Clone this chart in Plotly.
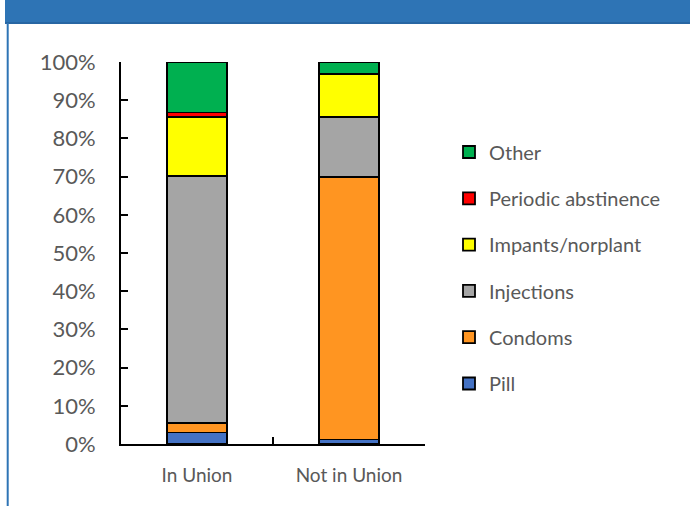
import plotly.graph_objects as go

categories = ["In Union", "Not in Union"]
series_names = ["Pill", "Condoms", "Injections", "Impants/norplant", "Periodic abstinence", "Other"]
pill = [3.0, 1.2]
condoms = [2.5, 68.8]
injections = [64.7, 15.5]
implants = [15.3, 11.4]
periodic = [1.3, 0.0]
other = [13.2, 3.1]
series_values = [pill, condoms, injections, implants, periodic, other]
colors = ["#4472C4", "#FF9521", "#A5A5A5", "#FFFF00", "#FF0000", "#00B050"]
y_ticks = list(range(0, 101, 10))
y_tick_labels = [f"{v}%" for v in y_ticks]
title_text = "Contraceptive method mix, 15-24 year olds"

W, H = 690, 506
L, R, T, B = 121, 265, 62, 62
pw, ph = W - L - R, H - T - B

def px_x(x):
    return (x - L) / pw

def px_y(y):
    return (H - B - y) / ph

FONT = "Lato, Liberation Sans, Arial, sans-serif"
GREY = "#595959"
BLUE = "#2E74B5"

fig = go.Figure()
n = len(series_names)
for i, (name, vals, col) in enumerate(zip(series_names, series_values, colors)):
    fig.add_trace(go.Bar(
        x=categories, y=vals, name=name, legendgroup=name, legendrank=n - i,
        marker=dict(color=col, line=dict(color="#000000", width=1.8)),
    ))

fig.update_layout(
    width=W, height=H,
    margin=dict(l=L, r=R, t=T, b=B),
    paper_bgcolor="#FFFFFF", plot_bgcolor="#FFFFFF",
    barmode="stack", bargap=0.605,
    font=dict(family=FONT, size=20, color=GREY),
    showlegend=True,
    legend=dict(
        x=px_x(449), y=px_y(132.5), xanchor="left", yanchor="top",
        traceorder="grouped", tracegroupgap=17.3,
        font=dict(family=FONT, size=20, color=GREY),
        itemwidth=30, bgcolor="rgba(0,0,0,0)",
    ),
    xaxis=dict(
        showline=True, linecolor="#000000", linewidth=2,
        ticks="inside", tickson="boundaries", ticklen=7, tickwidth=2, tickcolor="#000000",
        showgrid=False, zeroline=False,
        tickfont=dict(family=FONT, size=19, color=GREY),
        ticklabelstandoff=13,
        fixedrange=True,
    ),
    yaxis=dict(
        range=[0, 100], tickvals=y_ticks, ticktext=y_tick_labels,
        showline=True, linecolor="#000000", linewidth=2,
        ticks="inside", ticklen=7, tickwidth=2, tickcolor="#000000",
        showgrid=False, zeroline=False,
        tickfont=dict(family=FONT, size=22, color=GREY),
        ticklabelstandoff=19,
        fixedrange=True,
    ),
    shapes=[
        dict(type="rect", xref="paper", yref="paper",
             x0=px_x(5), x1=px_x(W + 5), y0=px_y(23), y1=px_y(-5),
             fillcolor=BLUE, line=dict(width=0), layer="below"),
        dict(type="line", xref="paper", yref="paper",
             x0=px_x(5), x1=px_x(W + 5), y0=px_y(23), y1=px_y(23),
             line=dict(color="#2766A3", width=2)),
        dict(type="line", xref="paper", yref="paper",
             x0=px_x(7.7), x1=px_x(7.7), y0=px_y(23), y1=px_y(H + 5),
             line=dict(color=BLUE, width=2)),
    ],
    annotations=[
        dict(text=f"<b>{title_text}</b>", xref="paper", yref="paper",
             x=px_x(332), y=px_y(2.5), xanchor="center", yanchor="bottom",
             showarrow=False, font=dict(family="Liberation Sans, Arial, sans-serif", size=27, color="#FFFFFF")),
    ],
)

fig.write_html(
    "out.html",
    config={"displayModeBar": False},
    post_script="document.body.style.margin='0';document.body.style.overflow='hidden';document.documentElement.style.overflow='hidden';",
)
